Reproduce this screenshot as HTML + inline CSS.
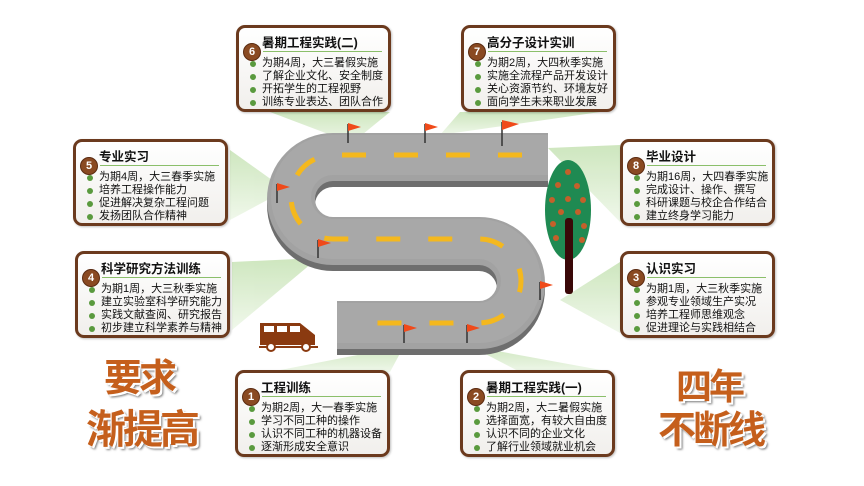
<!DOCTYPE html>
<html><head><meta charset="utf-8">
<style>
body{margin:0;width:864px;height:486px;background:#fff;position:relative;overflow:hidden;font-family:"Liberation Sans","Noto Sans CJK SC",sans-serif;}
.box{position:absolute;width:149px;height:81px;border:3px solid #6b3a1e;border-radius:9px;background:linear-gradient(#ffffff,#f1efec);box-shadow:1px 1px 2px rgba(0,0,0,.25);}
.num{position:absolute;left:4px;top:15px;width:16px;height:16px;border-radius:50%;background:#8a4a22;color:#fff;font-weight:bold;font-size:11px;line-height:16px;text-align:center;border:1px solid #5a2a10;}
.t{position:absolute;left:23px;top:4px;font-weight:bold;font-size:12.5px;color:#111;white-space:nowrap;}
.ul{position:absolute;left:24px;right:6px;top:23px;height:1px;background:#8bbf6a;}
.ls{position:absolute;left:10px;top:29px;font-size:11px;line-height:13px;color:#111;white-space:nowrap;}
.ls div{position:relative;padding-left:13px;}
.ls div:before{content:"";position:absolute;left:1px;top:4px;width:6px;height:6px;border-radius:50%;background:#5a9a3e;}
.big{position:absolute;color:#c55f1c;font-weight:bold;font-family:"Noto Sans CJK SC",sans-serif;text-shadow:2px 2px 0 #fff,-1px -1px 0 #fff,3px 3px 2px #777;letter-spacing:-3px;white-space:nowrap;}
</style></head><body>
<svg width="864" height="486" style="position:absolute;left:0;top:0">
<defs>
<linearGradient id="g" x1="0" y1="0" x2="0" y2="1"><stop offset="0" stop-color="#c9e4b8"/><stop offset="1" stop-color="#eef7e8"/></linearGradient>
</defs>
<g fill="url(#g)" opacity="0.9">
<polygon points="270,112 390,112 352,143"/>
<polygon points="460,112 600,112 440,135"/>
<polygon points="230,150 230,220 286,190"/>
<polygon points="232,262 232,330 318,258"/>
<polygon points="548,148 620,145 620,222"/>
<polygon points="560,300 620,262 620,333"/>
<polygon points="270,372 390,372 404,346"/>
<polygon points="470,346 520,372 612,372"/>
</g>
<path d="M548,163 H333 A42,42 0 0 0 333,247 H479 A42,42 0 0 1 479,331 H337" fill="none" stroke="#6e6e6e" stroke-width="48"/>
<path d="M548,157 H333 A42,42 0 0 0 333,241 H479 A42,42 0 0 1 479,325 H337" fill="none" stroke="#a2a2a2" stroke-width="48"/>
<path d="M548,155 H333 A42,42 0 0 0 333,239 H479 A42,42 0 0 1 479,323 H337" fill="none" stroke="#a8a8a8" stroke-width="40"/>
<path d="M522,155 H333 A42,42 0 0 0 333,239 H479 A42,42 0 0 1 479,323 H360" fill="none" stroke="#f4b81e" stroke-width="5" stroke-dasharray="24,28"/>
<g stroke="#333" stroke-width="1.5">
<line x1="348" y1="124" x2="348" y2="143"/><line x1="425" y1="124" x2="425" y2="143"/><line x1="502" y1="122" x2="502" y2="146"/>
<line x1="277" y1="184" x2="277" y2="203"/><line x1="318" y1="240" x2="318" y2="258"/><line x1="540" y1="282" x2="540" y2="300"/>
<line x1="404" y1="325" x2="404" y2="343"/><line x1="467" y1="325" x2="467" y2="343"/>
</g>
<g fill="#f04a1a">
<polygon points="348,123 361,127 348,131"/><polygon points="425,123 438,127 425,131"/><polygon points="502,120 519,124 502,130"/>
<polygon points="277,183 290,187 277,191"/><polygon points="318,239 331,243 318,247"/><polygon points="540,281 553,285 540,289"/>
<polygon points="404,324 417,328 404,332"/><polygon points="467,324 480,328 467,332"/>
</g>
<ellipse cx="568" cy="210" rx="23" ry="50" fill="#1f8a52"/>
<rect x="565" y="218" width="8" height="76" rx="3" fill="#3a0808"/>
<g fill="#c4602a">
<circle cx="568" cy="172" r="3"/><circle cx="558" cy="185" r="3"/><circle cx="577" cy="186" r="3"/><circle cx="552" cy="200" r="3"/><circle cx="568" cy="199" r="3"/><circle cx="583" cy="200" r="3"/><circle cx="561" cy="212" r="3"/><circle cx="578" cy="212" r="3"/><circle cx="553" cy="224" r="3"/><circle cx="584" cy="226" r="3"/><circle cx="556" cy="238" r="3"/><circle cx="582" cy="240" r="3"/>
</g>
<path d="M260,323 H300 L315,335 V345 H260 Z" fill="#8a3a10"/>
<rect x="264" y="326" width="10" height="6" fill="#fff"/><rect x="277" y="326" width="10" height="6" fill="#fff"/><rect x="290" y="326" width="10" height="6" fill="#fff"/>
<line x1="259" y1="347" x2="318" y2="347" stroke="#8a3a10" stroke-width="2"/>
<circle cx="271" cy="347" r="4" fill="#fff" stroke="#8a3a10" stroke-width="2"/><circle cx="306" cy="347" r="4" fill="#fff" stroke="#8a3a10" stroke-width="2"/>
</svg>

<div class="box" style="left:236px;top:25px"><div class="num">6</div><div class="t">暑期工程实践(二)</div><div class="ul"></div><div class="ls"><div>为期4周，大三暑假实施</div><div>了解企业文化、安全制度</div><div>开拓学生的工程视野</div><div>训练专业表达、团队合作</div></div></div>
<div class="box" style="left:461px;top:25px"><div class="num">7</div><div class="t">高分子设计实训</div><div class="ul"></div><div class="ls"><div>为期2周，大四秋季实施</div><div>实施全流程产品开发设计</div><div>关心资源节约、环境友好</div><div>面向学生未来职业发展</div></div></div>
<div class="box" style="left:73px;top:139px"><div class="num">5</div><div class="t">专业实习</div><div class="ul"></div><div class="ls"><div>为期4周，大三春季实施</div><div>培养工程操作能力</div><div>促进解决复杂工程问题</div><div>发扬团队合作精神</div></div></div>
<div class="box" style="left:75px;top:251px"><div class="num">4</div><div class="t">科学研究方法训练</div><div class="ul"></div><div class="ls"><div>为期1周，大三秋季实施</div><div>建立实验室科学研究能力</div><div>实践文献查阅、研究报告</div><div>初步建立科学素养与精神</div></div></div>
<div class="box" style="left:620px;top:139px"><div class="num">8</div><div class="t">毕业设计</div><div class="ul"></div><div class="ls"><div>为期16周，大四春季实施</div><div>完成设计、操作、撰写</div><div>科研课题与校企合作结合</div><div>建立终身学习能力</div></div></div>
<div class="box" style="left:620px;top:251px"><div class="num">3</div><div class="t">认识实习</div><div class="ul"></div><div class="ls"><div>为期1周，大三秋季实施</div><div>参观专业领域生产实况</div><div>培养工程师思维观念</div><div>促进理论与实践相结合</div></div></div>
<div class="box" style="left:235px;top:370px"><div class="num">1</div><div class="t">工程训练</div><div class="ul"></div><div class="ls"><div>为期2周，大一春季实施</div><div>学习不同工种的操作</div><div>认识不同工种的机器设备</div><div>逐渐形成安全意识</div></div></div>
<div class="box" style="left:460px;top:370px"><div class="num">2</div><div class="t">暑期工程实践(一)</div><div class="ul"></div><div class="ls"><div>为期2周，大二暑假实施</div><div>选择面宽，有较大自由度</div><div>认识不同的企业文化</div><div>了解行业领域就业机会</div></div></div>

<div class="big" style="left:104px;top:352px;font-size:38px;line-height:46px">要求</div>
<div class="big" style="left:86px;top:402px;font-size:40px;line-height:48px">渐提高</div>
<div class="big" style="left:676px;top:362px;font-size:36px;line-height:44px">四年</div>
<div class="big" style="left:658px;top:404px;font-size:38px;line-height:46px">不断线</div>
</body></html>
